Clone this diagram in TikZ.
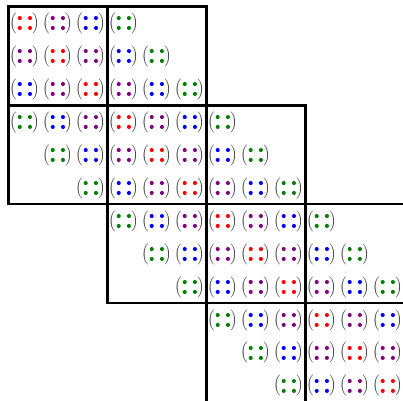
\documentclass[tikz,border=0pt]{standalone}
\usepackage{amsmath, amssymb}
\usepackage{tikz}

\definecolor{dred}{RGB}{255,0,0}
\definecolor{dpurple}{RGB}{128,0,128}
\definecolor{dblue}{RGB}{0,0,255}
\definecolor{dgreen}{RGB}{0,128,0}

% one small 2x2 entry: column, row, colour
\newcommand{\dotcell}[3]{%
  \node[paren] (o-#1-#2) at (#1+0.14,#2+0.5) {$\Bigl($};
  \node[paren] (c-#1-#2) at (#1+0.83,#2+0.5) {$\Bigr)$};
  \foreach \dx in {0.34,0.65}
    \foreach \dy in {0.35,0.65}
      \fill[#3] (#1+\dx,#2+\dy) circle (0.062);
}

\begin{document}
\begin{tikzpicture}[x=0.8cm, y=-0.8cm,
    paren/.style={inner sep=0pt, text=black!80, scale=0.8},
    frame/.style={black, line width=1.4pt}]
  \clip (-0.258,-0.197) rectangle (11.955,11.955);
  % diagonal blocks
  \foreach \k in {0,...,3}{
    \foreach \i/\j/\c in {0/0/dred, 1/0/dpurple, 2/0/dblue,
                          0/1/dpurple, 1/1/dred, 2/1/dpurple,
                          0/2/dblue, 1/2/dpurple, 2/2/dred}{
      \pgfmathtruncatemacro{\cx}{3*\k+\i}
      \pgfmathtruncatemacro{\cy}{3*\k+\j}
      \dotcell{\cx}{\cy}{\c}
    }
  }
  % blocks right of the diagonal
  \foreach \k in {0,...,2}{
    \foreach \i/\j/\c in {0/0/dgreen, 0/1/dblue, 1/1/dgreen,
                          0/2/dpurple, 1/2/dblue, 2/2/dgreen}{
      \pgfmathtruncatemacro{\cx}{3*\k+3+\i}
      \pgfmathtruncatemacro{\cy}{3*\k+\j}
      \dotcell{\cx}{\cy}{\c}
    }
  }
  % blocks left of the diagonal
  \foreach \k in {1,...,3}{
    \foreach \i/\j/\c in {0/0/dgreen, 1/0/dblue, 2/0/dpurple,
                          1/1/dgreen, 2/1/dblue, 2/2/dgreen}{
      \pgfmathtruncatemacro{\cx}{3*\k-3+\i}
      \pgfmathtruncatemacro{\cy}{3*\k+\j}
      \dotcell{\cx}{\cy}{\c}
    }
  }
  % block frames
  \draw[frame] (0,0) rectangle (6,3) (3,0) -- (3,3);
  \draw[frame] (0,3) rectangle (9,6) (3,3) -- (3,6) (6,3) -- (6,6);
  \draw[frame] (3,6) rectangle (12,9) (6,6) -- (6,9) (9,6) -- (9,9);
  \draw[frame] (6,9) rectangle (15,12) (9,9) -- (9,12);
\end{tikzpicture}
\end{document}
